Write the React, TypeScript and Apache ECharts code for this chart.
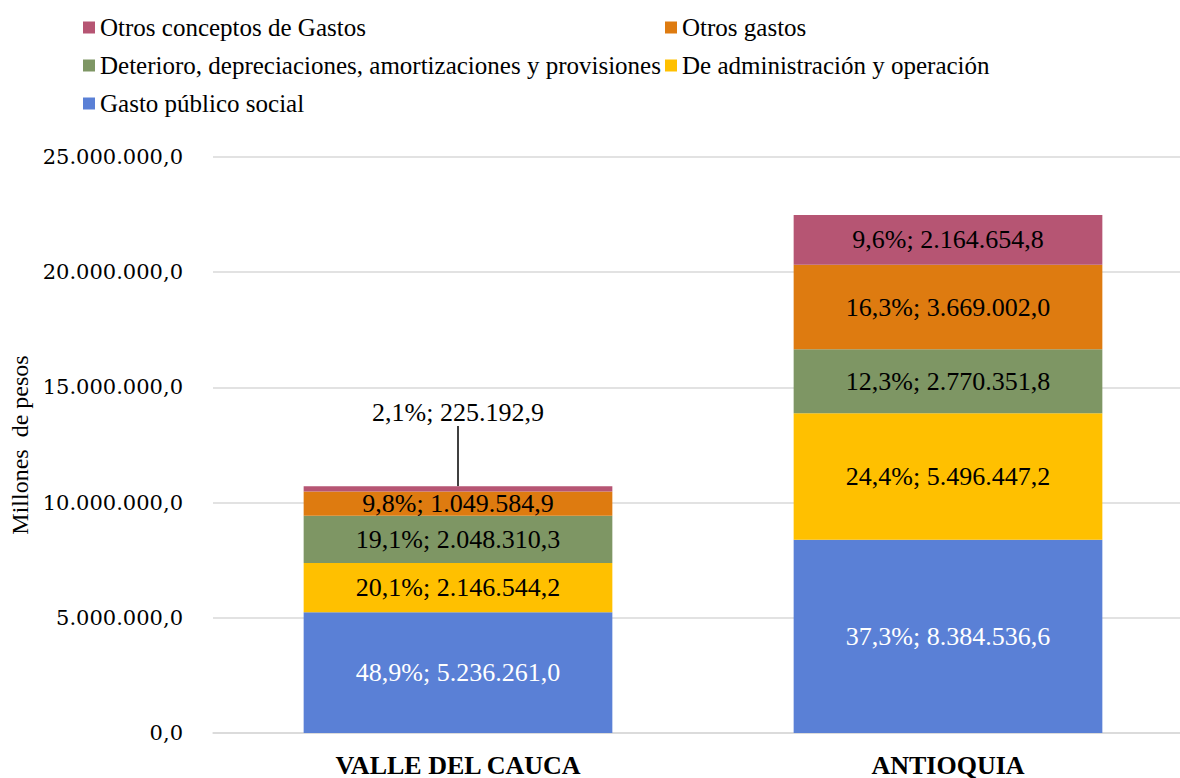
import React, { useEffect, useRef } from "react";
import * as echarts from "echarts";

const categories = ["VALLE DEL CAUCA", "ANTIOQUIA"];
const seriesNames = [
  "Gasto público social",
  "De administración y operación",
  "Deterioro, depreciaciones, amortizaciones y provisiones",
  "Otros gastos",
  "Otros conceptos de Gastos",
];
const gastoPublicoSocial = [5236261.0, 8384536.6];
const deAdministracion = [2146544.2, 5496447.2];
const deterioro = [2048310.3, 2770351.8];
const otrosGastos = [1049584.9, 3669002.0];
const otrosConceptos = [225192.9, 2164654.8];

const pctGastoPublicoSocial = ["48,9%", "37,3%"];
const pctDeAdministracion = ["20,1%", "24,4%"];
const pctDeterioro = ["19,1%", "12,3%"];
const pctOtrosGastos = ["9,8%", "16,3%"];
const pctOtrosConceptos = ["2,1%", "9,6%"];

const colors = ["#5A80D6", "#FFC000", "#7E9664", "#DE7B10", "#B65573"];
const yTicks = [0, 5000000, 10000000, 15000000, 20000000, 25000000];

const FONT = "Liberation Serif";

function fmt(v: number): string {
  const fixed = v.toFixed(1);
  const [intPart, dec] = fixed.split(".");
  const withDots = intPart.replace(/\B(?=(\d{3})+(?!\d))/g, ".");
  return withDots + "," + dec;
}

export default function App() {
  const ref = useRef<HTMLDivElement>(null);
  useEffect(() => {
    if (!ref.current) return;
    const chart = echarts.init(ref.current, null, { renderer: "svg" });
    const values = [gastoPublicoSocial, deAdministracion, deterioro, otrosGastos, otrosConceptos];
    const pcts = [pctGastoPublicoSocial, pctDeAdministracion, pctDeterioro, pctOtrosGastos, pctOtrosConceptos];
    const series = values.map((vals, si) => ({
      name: seriesNames[si],
      type: "bar",
      stack: "total",
      barCategoryGap: "37%",
      itemStyle: { color: colors[si] },
      data: vals,
      label: {
        show: true,
        position: "inside",
        fontFamily: FONT,
        fontWeight: "normal",
        fontSize: 26,
        color: si === 0 ? "#FFFFFF" : "#000000",
        formatter: (p: any) => pcts[si][p.dataIndex] + "; " + fmt(vals[p.dataIndex]),
      },
      labelLine: si === 4 ? { show: true, lineStyle: { color: "#000000", width: 1.5 } } : undefined,
      labelLayout:
        si === 4
          ? (p: any) => (p.dataIndex === 0 ? { dy: -76 } : {})
          : undefined,
    }));
    const legendText = { fontFamily: FONT, fontWeight: "normal", fontSize: 25, color: "#000" };
    chart.setOption({
      animation: false,
      textStyle: { fontFamily: FONT },
      legend: [
        {
          orient: "vertical",
          left: 78,
          top: 10,
          itemWidth: 12,
          itemHeight: 12,
          itemGap: 13,
          icon: "rect",
          data: [seriesNames[4], seriesNames[2], seriesNames[0]],
          textStyle: legendText,
        },
        {
          orient: "vertical",
          left: 660,
          top: 10,
          itemWidth: 12,
          itemHeight: 12,
          itemGap: 13,
          icon: "rect",
          data: [seriesNames[3], seriesNames[1]],
          textStyle: legendText,
        },
      ],
      grid: { left: 213, right: 7, top: 157, bottom: 45, outerBoundsMode: "none", containLabel: false },
      xAxis: {
        type: "category",
        data: categories,
        axisLine: { lineStyle: { color: "#D9D9D9", width: 1.5 } },
        axisTick: { show: false },
        axisLabel: {
          fontFamily: FONT,
          fontSize: 26,
          fontWeight: "bold",
          color: "#000",
          margin: 19,
        },
      },
      yAxis: {
        type: "value",
        min: yTicks[0],
        max: yTicks[yTicks.length - 1],
        interval: yTicks[1] - yTicks[0],
        name: "Millones  de pesos",
        nameLocation: "middle",
        nameGap: 181,
        nameRotate: 90,
        nameTextStyle: { fontFamily: FONT, fontSize: 24, color: "#000" },
        axisLine: { show: false },
        axisTick: { show: false },
        splitLine: { lineStyle: { color: "#D9D9D9", width: 1.5 } },
        axisLabel: {
          fontFamily: "DejaVu Serif",
          fontWeight: "normal",
          fontSize: 21,
          color: "#000",
          margin: 30,
          formatter: (v: number) => fmt(v),
        },
      },
      series,
    });
    return () => chart.dispose();
  }, []);
  return (
    <div style={{ position: "fixed", left: 0, top: 0, width: 1180, height: 778, overflow: "hidden", background: "#fff" }}>
      <div ref={ref} style={{ width: 1200, height: 778 }} />
    </div>
  );
}
